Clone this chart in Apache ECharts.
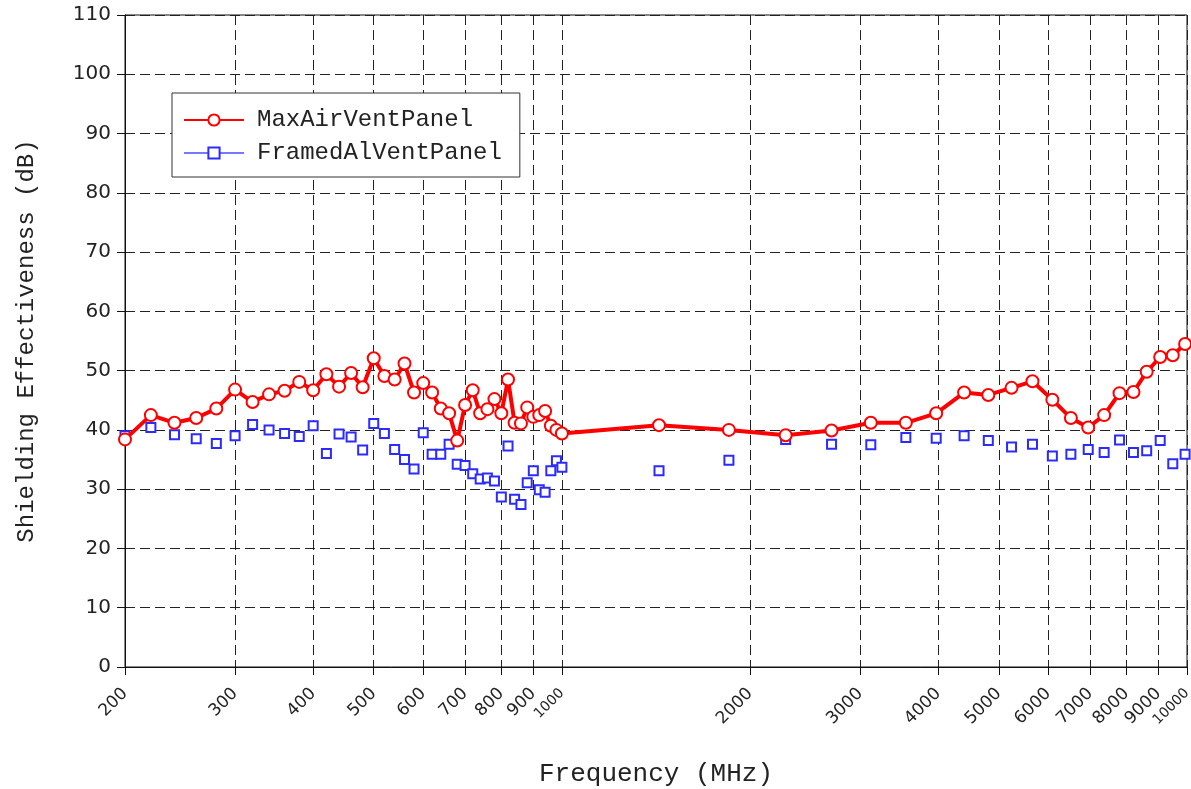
<!DOCTYPE html>
<html>
<head>
<meta charset="utf-8">
<title>Shielding Effectiveness</title>
<script src="https://cdn.jsdelivr.net/npm/echarts@6/dist/echarts.min.js"></script>
<style>
  html, body { margin: 0; padding: 0; background: #fff; }
  #chart { width: 1191px; height: 789px; }
</style>
</head>
<body>
<div id="chart"></div>
<script>
// Measurement frequencies (MHz)
var freqs = [
  200, 220, 240, 260, 280, 300, 320, 340, 360, 380,
  400, 420, 440, 460, 480, 500, 520, 540, 560, 580,
  600, 620, 640, 660, 680, 700, 720, 740, 760, 780,
  800, 820, 840, 860, 880, 900, 920, 940, 960, 980,
  1000,
  1430, 1850, 2280, 2700, 3120, 3550, 3970, 4400, 4810, 5240,
  5660, 6090, 6520, 6950, 7370, 7800, 8210, 8620, 9060, 9490,
  9930
];

// Shielding effectiveness (dB), MaxAirVentPanel
var maxAirVent = [
  38.4, 42.5, 41.2, 42.0, 43.6, 46.8, 44.7, 46.0, 46.6, 48.1,
  46.7, 49.4, 47.3, 49.6, 47.2, 52.1, 49.1, 48.5, 51.2, 46.3,
  47.9, 46.3, 43.6, 42.8, 38.2, 44.2, 46.7, 42.8, 43.5, 45.2,
  42.8, 48.5, 41.2, 41.1, 43.8, 42.2, 42.5, 43.2, 40.7, 40.0,
  39.4,
  40.8, 40.0, 39.1, 39.9, 41.2, 41.2, 42.8, 46.3, 45.9, 47.1,
  48.2, 45.1, 42.0, 40.4, 42.5, 46.2, 46.4, 49.8, 52.3, 52.6,
  54.5
];

// Shielding effectiveness (dB), FramedAlVentPanel
var framedAlVent = [
  39.0, 40.4, 39.2, 38.5, 37.7, 39.0, 40.9, 40.0, 39.4, 38.9,
  40.7, 36.0, 39.3, 38.8, 36.6, 41.1, 39.4, 36.7, 35.0, 33.4,
  39.5, 35.9, 35.9, 37.6, 34.2, 34.0, 32.6, 31.7, 31.9, 31.4,
  28.7, 37.3, 28.3, 27.4, 31.1, 33.1, 29.9, 29.5, 33.1, 34.8,
  33.7,
  33.1, 34.9, 38.4, 37.6, 37.5, 38.7, 38.6, 39.0, 38.2, 37.1,
  37.6, 35.6, 35.9, 36.7, 36.2, 38.3, 36.2, 36.5, 38.2, 34.3,
  35.9
];

// Frequency axis tick values (log scale)
var freqTicks = [200, 300, 400, 500, 600, 700, 800, 900, 1000,
                 2000, 3000, 4000, 5000, 6000, 7000, 8000, 9000, 10000];
// Labels drawn with the small font
var smallTickLabels = [1000, 10000];

var seriesNames = ['MaxAirVentPanel', 'FramedAlVentPanel'];

function pairs(xs, ys) {
  return xs.map(function (x, i) { return [x, ys[i]]; });
}

var monoFont = '"Liberation Mono", "DejaVu Sans Mono", monospace';
var tickFont = '"DejaVu Sans", sans-serif';
var dashed = { color: '#222', width: 1, type: [10, 5] };

var chart = echarts.init(document.getElementById('chart'), null, { renderer: 'canvas' });

chart.setOption({
  animation: false,
  backgroundColor: '#fff',
  grid: {
    left: 125, right: 4, top: 15, bottom: 122,
    outerBoundsMode: 'none',
    containLabel: false,
    show: true, borderColor: '#111', borderWidth: 1,
    backgroundColor: 'transparent'
  },
  legend: {
    orient: 'vertical',
    left: 172, top: 93,
    itemWidth: 60, itemHeight: 14, itemGap: 9,
    padding: [15, 18, 12, 11],
    borderColor: '#333', borderWidth: 1, borderRadius: 0,
    backgroundColor: '#fff',
    textStyle: { fontFamily: monoFont, fontSize: 24, color: '#222', padding: [0, 0, 0, 8] },
    data: [
      { name: seriesNames[0] },
      { name: seriesNames[1], lineStyle: { opacity: 1, width: 1.5, color: '#4a4aff' } }
    ]
  },
  xAxis: {
    type: 'log',
    logBase: 10,
    min: 200, max: 10000,
    name: 'Frequency (MHz)',
    nameLocation: 'middle',
    nameGap: 94,
    nameTextStyle: { fontFamily: monoFont, fontSize: 26, color: '#222' },
    axisLine: { show: true, lineStyle: { color: '#111', width: 1 } },
    axisTick: { show: true, inside: false, length: 8, customValues: freqTicks, lineStyle: { color: '#111' } },
    axisLabel: {
      customValues: freqTicks,
      rotate: 45,
      margin: 24,
      fontFamily: tickFont,
      fontSize: 17,
      color: '#222',
      formatter: function (v) {
        var n = Math.round(v);
        return smallTickLabels.indexOf(n) >= 0 ? '{s|' + n + '}' : String(n);
      },
      rich: { s: { fontFamily: tickFont, fontSize: 14, color: '#222' } }
    },
    splitLine: { show: true, lineStyle: dashed }
  },
  yAxis: {
    type: 'value',
    min: 0, max: 110, interval: 10,
    name: 'Shielding Effectiveness (dB)',
    nameLocation: 'middle',
    nameGap: 86,
    nameTextStyle: { fontFamily: monoFont, fontSize: 24, color: '#222' },
    axisLine: { show: true, lineStyle: { color: '#111', width: 1 } },
    axisTick: { show: true, inside: false, length: 8, lineStyle: { color: '#111' } },
    axisLabel: { margin: 14, fontFamily: tickFont, fontSize: 20, color: '#222' },
    splitLine: { show: true, lineStyle: dashed }
  },
  series: [
    {
      name: seriesNames[0],
      type: 'line',
      data: pairs(freqs, maxAirVent),
      symbol: 'emptyCircle',
      symbolSize: 12,
      showAllSymbol: true,
      lineStyle: { color: '#ff0000', width: 4 },
      itemStyle: { color: '#ff0000', borderColor: '#ff0000', borderWidth: 2.2 },
      z: 3
    },
    {
      name: seriesNames[1],
      type: 'line',
      data: pairs(freqs, framedAlVent),
      symbol: 'emptyRect',
      symbolSize: 9,
      showAllSymbol: true,
      lineStyle: { color: '#4a4aff', width: 1, opacity: 0 },
      itemStyle: { color: '#2b2bff', borderColor: '#2b2bff', borderWidth: 1.3 },
      z: 2
    }
  ]
});
</script>
</body>
</html>
